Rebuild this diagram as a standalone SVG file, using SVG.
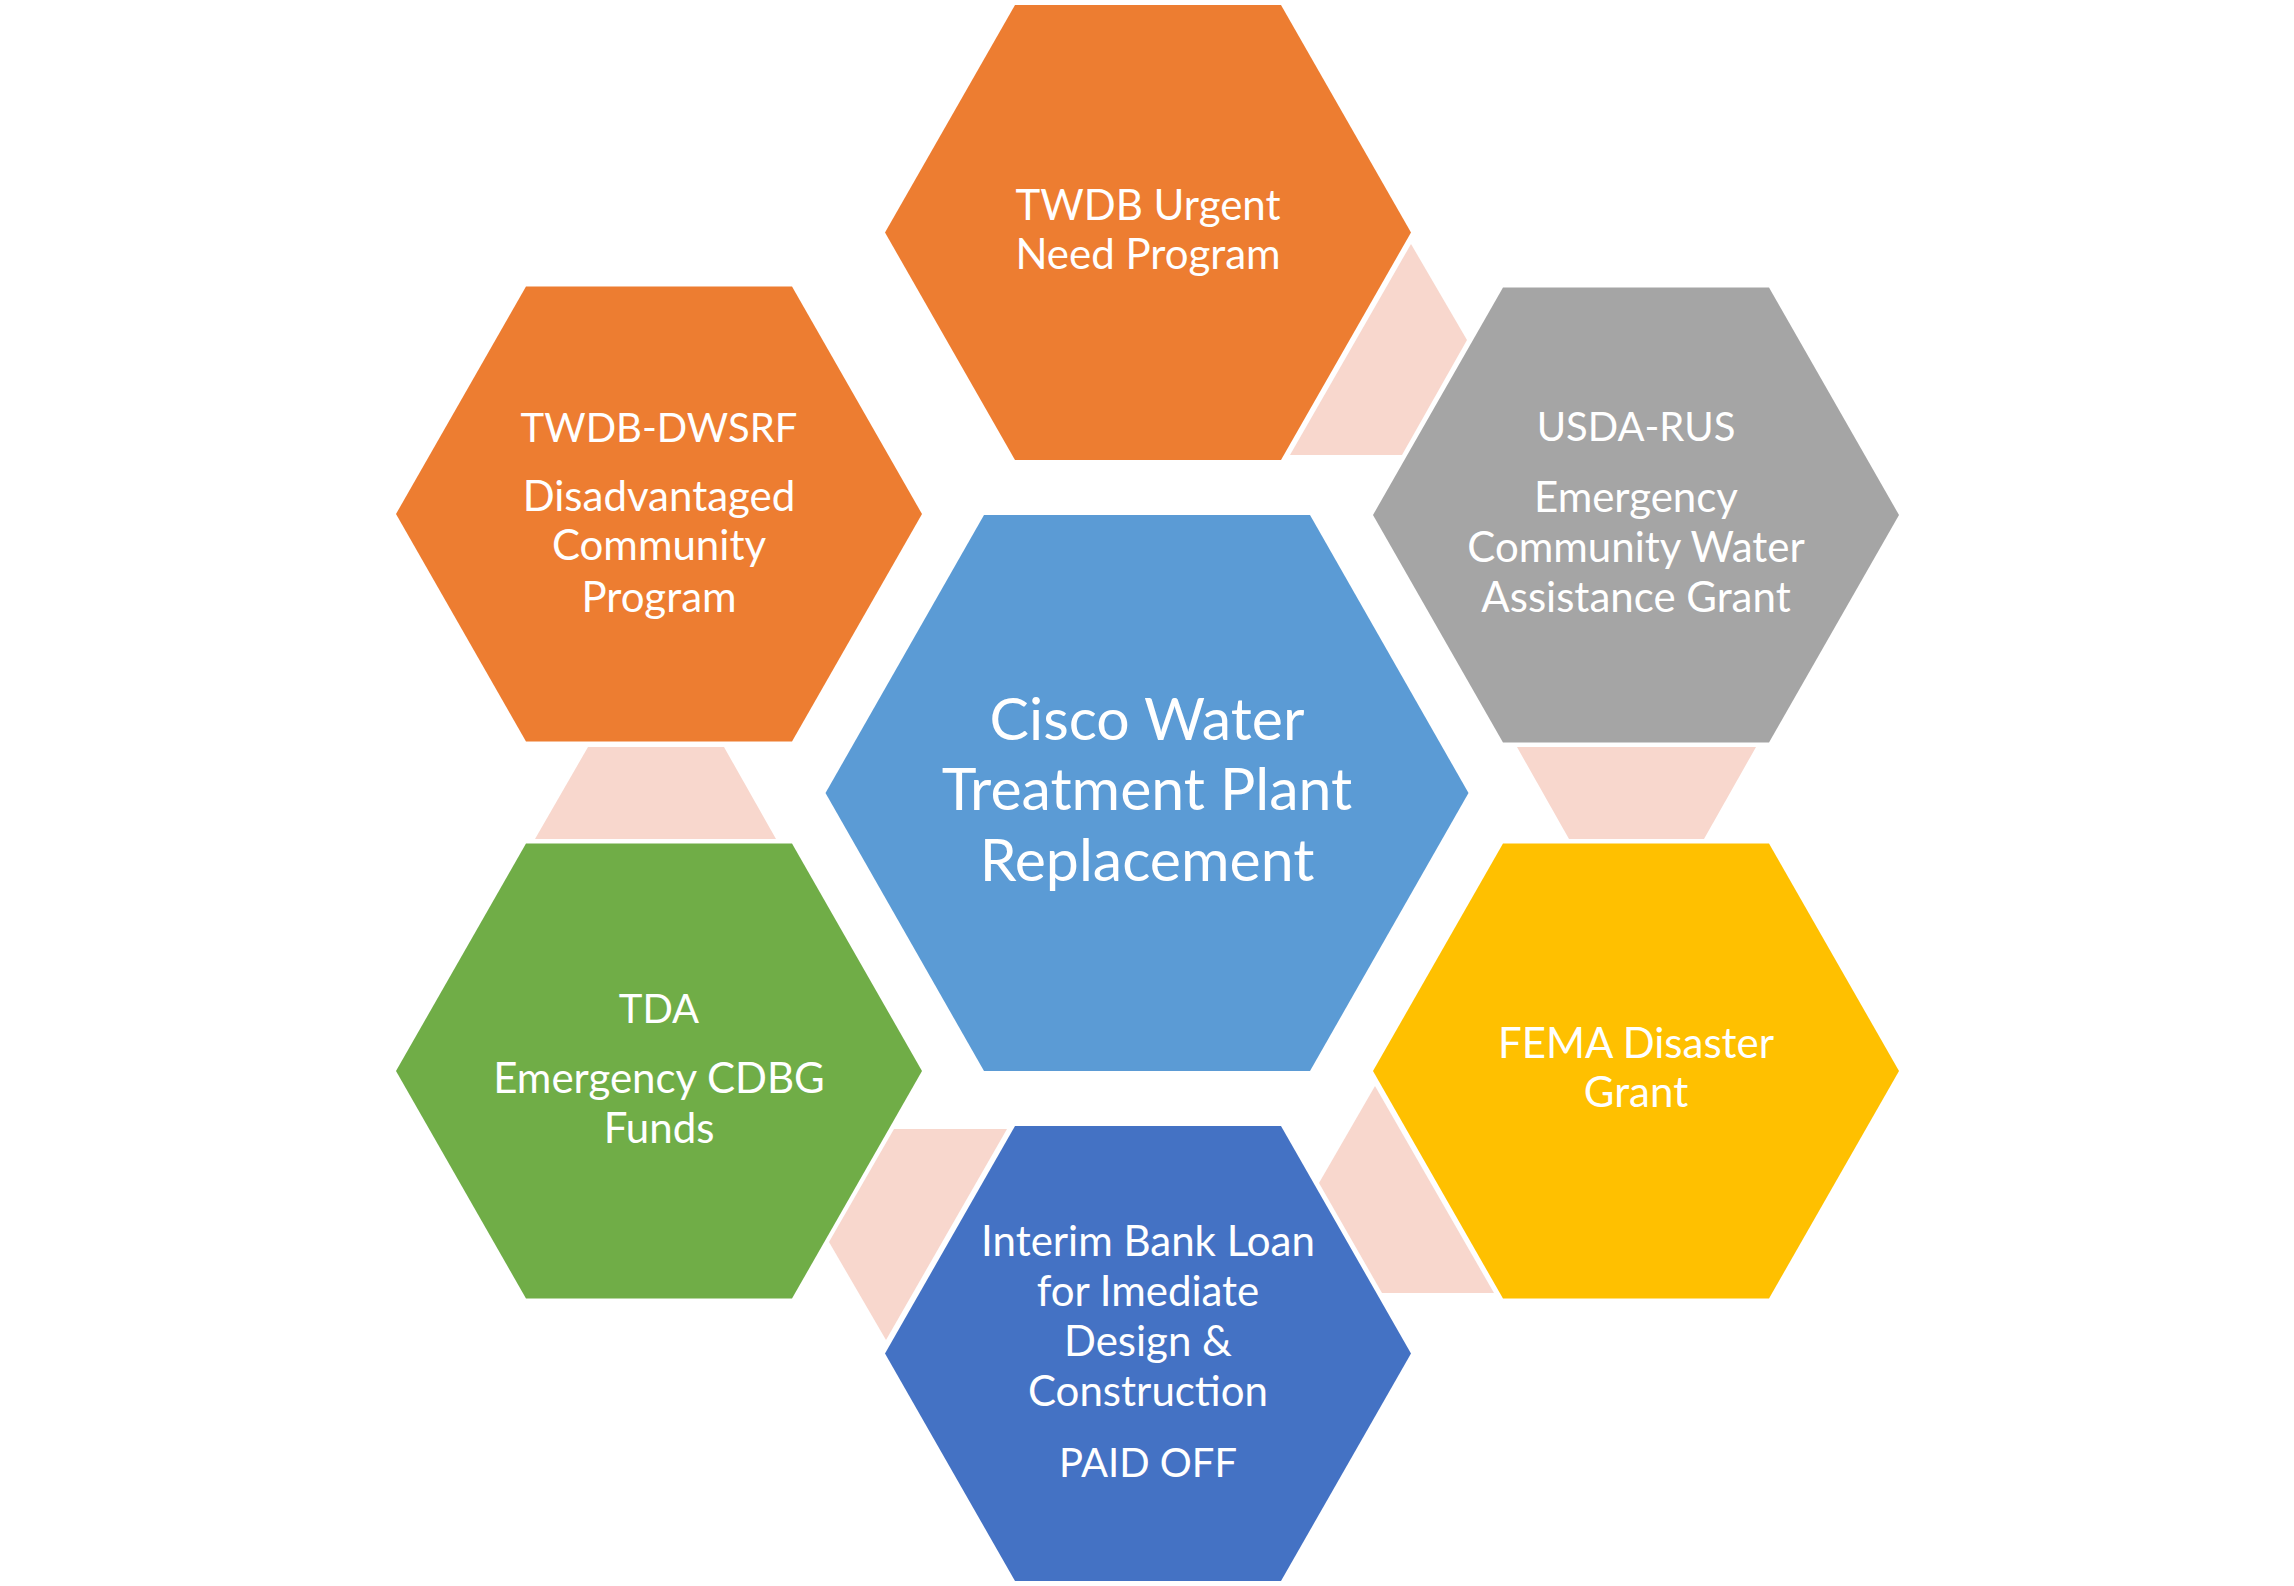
<svg xmlns="http://www.w3.org/2000/svg" width="2294" height="1586" viewBox="0 0 2294 1586">
<style>
.t{font-family:Lato,"Open Sans","Liberation Sans",sans-serif;fill:#fff;text-anchor:middle;font-size:42px}
.k{font-size:40px}
.c{font-size:59px}
.link{fill:#F8D7CD}
</style>
<rect width="2294" height="1586" fill="#fff"/>
<g id="connectors">
<polygon class="link" points="1411,244 1467,340 1402,455 1290,455"/>
<polygon class="link" points="1517,747 1756,747 1704,839 1569,839"/>
<polygon class="link" points="1375,1086 1494,1293 1382,1293 1319,1183"/>
<polygon class="link" points="894,1129 1007,1129 886,1340 829,1242"/>
<polygon class="link" points="588,747 724,747 776,839 535,839"/>
</g>
<g id="center">
<polygon points="825.5,793 984,515 1310,515 1468.5,793 1310,1071 984,1071" fill="#5B9BD5"/>
<text class="t c" x="1147" y="740">Cisco Water</text>
<text class="t c" x="1147" y="810">Treatment Plant</text>
<text class="t c" x="1147" y="881">Replacement</text>
</g>
<g id="twdb-urgent">
<polygon points="885,232.5 1015,5 1281,5 1411,232.5 1281,460 1015,460" fill="#ED7D31"/>
<text class="t" x="1148" y="220">TWDB Urgent</text>
<text class="t" x="1148" y="269">Need Program</text>
</g>
<g id="usda-rus">
<polygon points="1373,515 1503,287.5 1769,287.5 1899,515 1769,742.5 1503,742.5" fill="#A5A5A5"/>
<text class="t k" x="1636" y="441">USDA-RUS</text>
<text class="t" x="1636" y="512">Emergency</text>
<text class="t" x="1636" y="562">Community Water</text>
<text class="t" x="1636" y="612">Assistance Grant</text>
</g>
<g id="fema">
<polygon points="1373,1071 1503,843.5 1769,843.5 1899,1071 1769,1298.5 1503,1298.5" fill="#FFC000"/>
<text class="t" x="1636" y="1058">FEMA Disaster</text>
<text class="t" x="1636" y="1107">Grant</text>
</g>
<g id="interim-loan">
<polygon points="885,1353.5 1015,1126 1281,1126 1411,1353.5 1281,1581 1015,1581" fill="#4472C4"/>
<text class="t" x="1148" y="1256">Interim Bank Loan</text>
<text class="t" x="1148" y="1306">for Imediate</text>
<text class="t" x="1148" y="1356">Design &amp;</text>
<text class="t" x="1148" y="1406">Construction</text>
<text class="t k" x="1148" y="1477">PAID OFF</text>
</g>
<g id="tda">
<polygon points="396,1071 526,843.5 792,843.5 922,1071 792,1298.5 526,1298.5" fill="#70AD47"/>
<text class="t k" x="659" y="1023">TDA</text>
<text class="t" x="659" y="1093">Emergency CDBG</text>
<text class="t" x="659" y="1143">Funds</text>
</g>
<g id="twdb-dwsrf">
<polygon points="396,514 526,286.5 792,286.5 922,514 792,741.5 526,741.5" fill="#ED7D31"/>
<text class="t k" x="659" y="442">TWDB-DWSRF</text>
<text class="t" x="659" y="511">Disadvantaged</text>
<text class="t" x="659" y="560">Community</text>
<text class="t" x="659" y="612">Program</text>
</g>
</svg>
